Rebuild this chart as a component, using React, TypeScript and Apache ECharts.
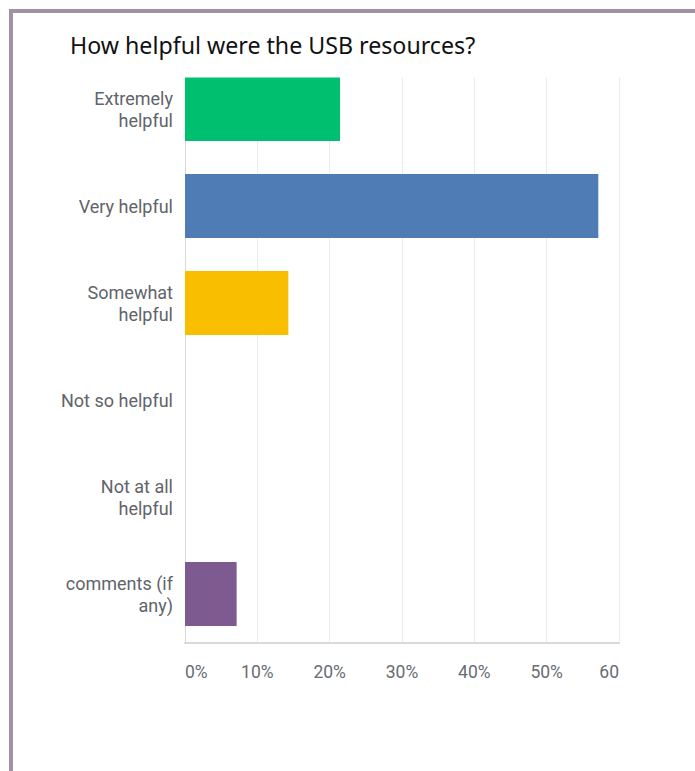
import React, { useEffect, useRef } from "react";
import * as echarts from "echarts";

const categories = [
  "Extremely\nhelpful",
  "Very helpful",
  "Somewhat\nhelpful",
  "Not so helpful",
  "Not at all\nhelpful",
  "comments (if\nany)",
];
const values = [21.43, 57.14, 14.29, 0, 0, 7.14];
const barColors = ["#00bf6f", "#507cb6", "#f9be00", "#6bc8cd", "#ff8b4f", "#7d5b91"];
const titleText = "How helpful were the USB resources?";

export default function App() {
  const ref = useRef<HTMLDivElement>(null);
  useEffect(() => {
    if (!ref.current) return;
    const chart = echarts.init(ref.current, undefined, { renderer: "svg" });
    chart.setOption({
      animation: false,
      backgroundColor: "#ffffff",
      grid: { left: 185, right: 76, top: 60.5, bottom: 128.5, containLabel: false },
      xAxis: {
        type: "value",
        min: 0,
        max: 60,
        interval: 10,
        axisLine: { show: true, lineStyle: { color: "#d9d9d9", width: 2 } },
        axisTick: { show: false },
        splitLine: { show: true, lineStyle: { color: "#ececec", width: 1 } },
        axisLabel: {
          color: "#676c72",
          fontFamily: "Roboto",
          fontSize: 17.5,
          margin: 20,
          alignMinLabel: "left",
          alignMaxLabel: "right",
          formatter: (v: number) => (v === 60 ? "60" : v + "%"),
        },
      },
      yAxis: {
        type: "category",
        inverse: true,
        data: categories,
        axisLine: { show: true, lineStyle: { color: "#d9d9d9", width: 1 } },
        axisTick: { show: false },
        axisLabel: {
          color: "#5f646a",
          fontFamily: "Roboto",
          fontSize: 18,
          lineHeight: 22,
          margin: 12,
          align: "right",
        },
      },
      series: [
        {
          type: "bar",
          data: values.map((v, i) => ({ value: v, itemStyle: { color: barColors[i] } })),
          barCategoryGap: "34%",
        },
      ],
      graphic: [
        {
          type: "rect",
          shape: { x: 150, y: 50, width: 500, height: 27.5 },
          style: { fill: "#ffffff" },
          z: 100,
        },
        {
          type: "rect",
          shape: { x: 9, y: 9, width: 4, height: 762 },
          style: { fill: "#a091a5" },
          z: 101,
        },
        {
          type: "rect",
          shape: { x: 9, y: 9, width: 686, height: 4 },
          style: { fill: "#a091a5" },
          z: 101,
        },
        {
          type: "text",
          x: 70,
          y: 45,
          style: {
            text: titleText,
            fill: "#111111",
            font: "23.2px 'Noto Sans'",
            textVerticalAlign: "middle",
          },
          z: 102,
        },
      ],
    });
    return () => chart.dispose();
  }, []);
  return (
    <div
      ref={ref}
      style={{ position: "fixed", left: 0, top: 0, width: 695, height: 771 }}
    />
  );
}
